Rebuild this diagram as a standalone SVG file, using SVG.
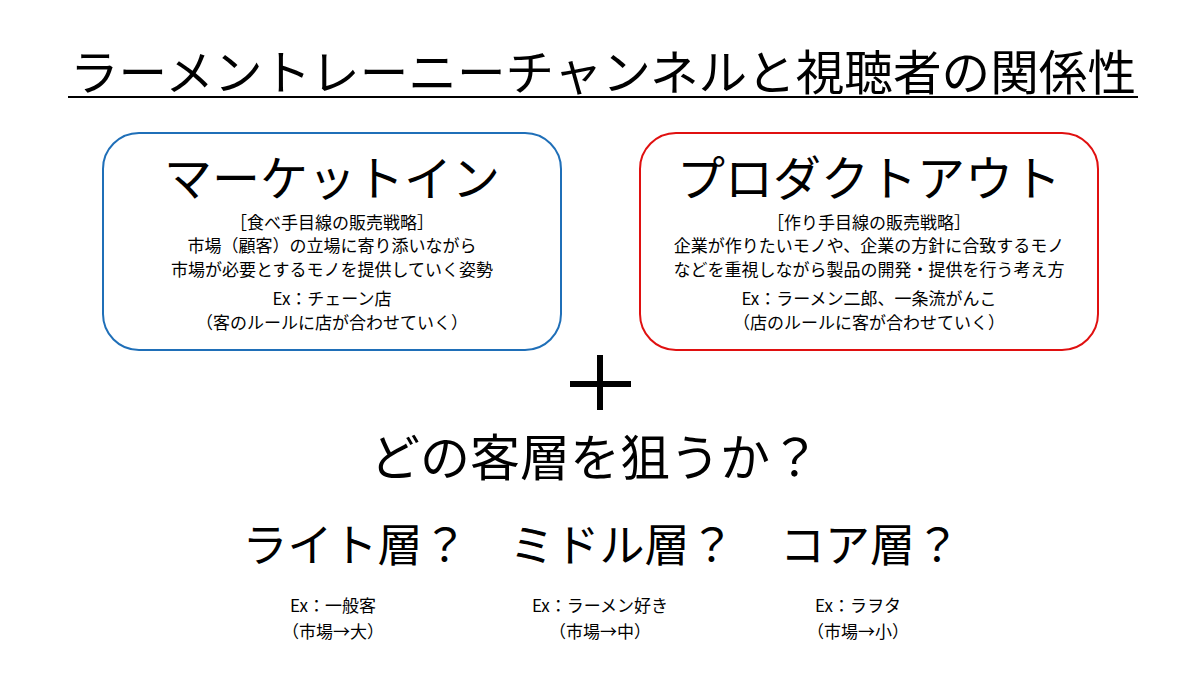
<svg xmlns="http://www.w3.org/2000/svg" width="1200" height="675" viewBox="0 0 1200 675">
<style>
text{font-family:"Noto Sans CJK JP","Noto Sans",sans-serif;fill:#000;text-anchor:middle}
.s{font-size:17px}
.h{font-size:48px}
.m{font-size:45px}
</style>
<rect width="1200" height="675" fill="#fff"/>
<g id="title"><text x="603" y="90" style="font-size:48px" textLength="1066" lengthAdjust="spacingAndGlyphs">ラーメントレーニーチャンネルと視聴者の関係性</text>
<line x1="68" y1="97" x2="1138" y2="97" stroke="#000" stroke-width="2"/></g>
<g id="marketin">
<rect x="103" y="133" width="458" height="217" rx="36" fill="none" stroke="#1f6fb8" stroke-width="2"/>
<text class="h" x="332" y="196">マーケットイン</text>
<text class="s" x="332" y="229">［食べ手目線の販売戦略］</text>
<text class="s" x="332" y="252">市場（顧客）の立場に寄り添いながら</text>
<text class="s" x="332" y="276">市場が必要とするモノを提供していく姿勢</text>
<text class="s" x="332" y="305">Ex：チェーン店</text>
<text class="s" x="332" y="329">（客のルールに店が合わせていく）</text>
</g>
<g id="productout">
<rect x="640" y="133" width="458" height="217" rx="36" fill="none" stroke="#e01010" stroke-width="2"/>
<text class="h" x="869" y="196">プロダクトアウト</text>
<text class="s" x="869" y="229">［作り手目線の販売戦略］</text>
<text class="s" x="869" y="252">企業が作りたいモノや、企業の方針に合致するモノ</text>
<text class="s" x="869" y="276">などを重視しながら製品の開発・提供を行う考え方</text>
<text class="s" x="869" y="305">Ex：ラーメン二郎、一条流がんこ</text>
<text class="s" x="869" y="329">（店のルールに客が合わせていく）</text>
</g>
<g id="plus"><line x1="570" y1="384" x2="631" y2="384" stroke="#000" stroke-width="6"/><line x1="600" y1="355" x2="600" y2="410" stroke="#000" stroke-width="6"/></g>
<g id="question"><text x="595" y="476" style="font-size:50px">どの客層を狙うか？</text></g>
<g id="light"><text class="m" x="355" y="562">ライト層？</text>
<text class="s" x="333" y="612">Ex：一般客</text><text class="s" x="333" y="638">（市場→大）</text></g>
<g id="middle"><text class="m" x="622" y="562">ミドル層？</text>
<text class="s" x="600" y="612">Ex：ラーメン好き</text><text class="s" x="600" y="638">（市場→中）</text></g>
<g id="core"><text class="m" x="870" y="562">コア層？</text>
<text class="s" x="858" y="612">Ex：ラヲタ</text><text class="s" x="858" y="638">（市場→小）</text></g>
<g id="connectors"></g>
</svg>
